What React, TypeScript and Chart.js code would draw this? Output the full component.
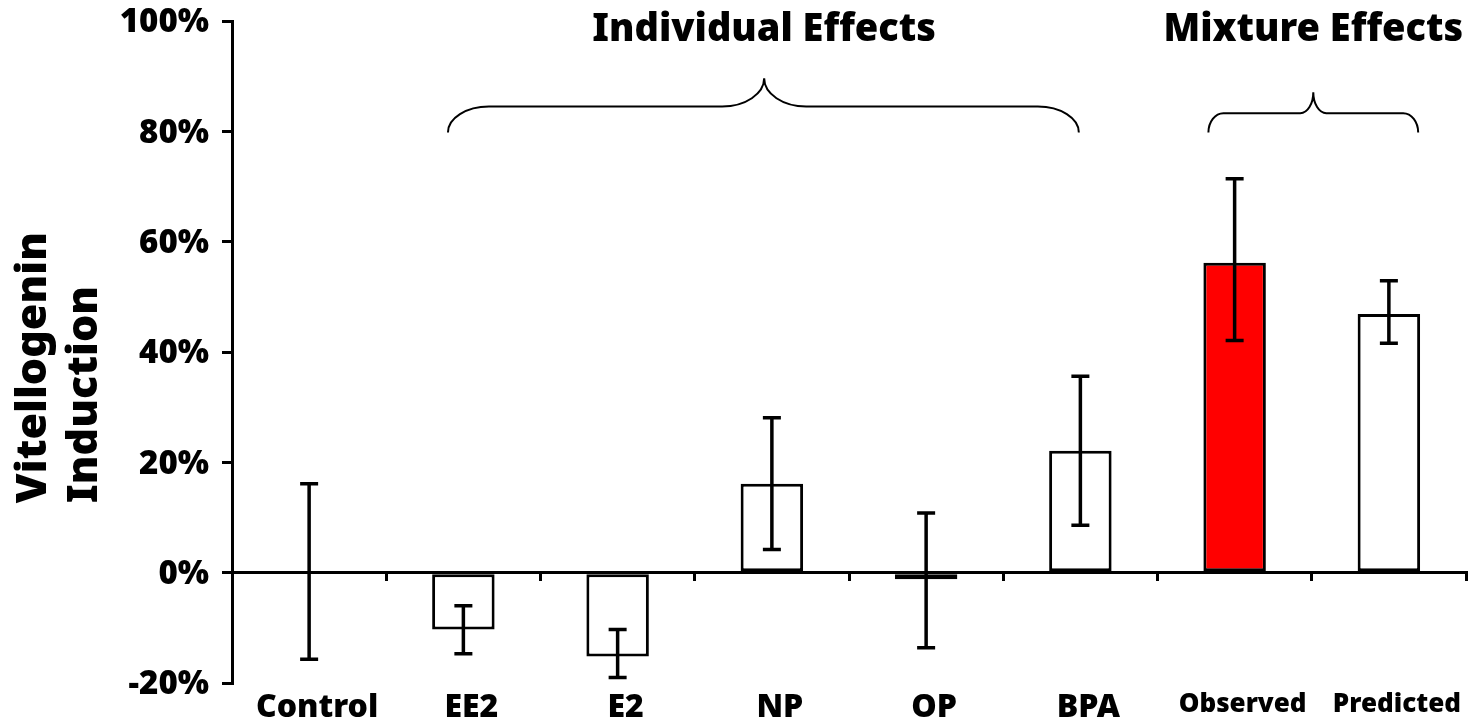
import React, { useEffect, useRef } from 'react';
import { Chart, registerables } from 'chart.js';

Chart.register(...registerables);

// ---- data ----
const categories = ['Control', 'EE2', 'E2', 'NP', 'OP', 'BPA', 'Observed', 'Predicted'];
const induction = [0, -10.3, -15.2, 16.1, -1.2, 22.1, 56.2, 46.9];
const errorHigh = [16.1, -6.0, -10.3, 28.1, 10.8, 35.6, 71.4, 52.9];
const errorLow = [-15.7, -14.7, -19.0, 4.2, -13.6, 8.6, 42.1, 41.6];
const barFills = ['#ffffff', '#ffffff', '#ffffff', '#ffffff', '#ffffff', '#ffffff', '#ff0000', '#ffffff'];
const yTickValues = [-20, 0, 20, 40, 60, 80, 100];
const yTitleLines = ['Vitellogenin', 'Induction'];
const groupTitles = ['Individual Effects', 'Mixture Effects'];

// ---- annotation geometry (category index / value units) ----
const braceSpecs = [
  { from: 0.9, tip: 2.95, to: 4.99, end: 79.8, bar: 84.5, top: 89.6, corner: 41, tipR: 42 },
  { from: 5.83, tip: 6.51, to: 7.19, end: 79.8, bar: 83.3, top: 87.1, corner: 15, tipR: 13 },
];

const FONT = '"Noto Sans"';
const WEIGHT = 900;

function drawBrace(ctx: CanvasRenderingContext2D, xL: number, xT: number, xR: number, yE: number, yB: number, yT: number, rc: number, rt: number) {
  const k = 0.5523;
  ctx.beginPath();
  ctx.moveTo(xL, yE);
  ctx.bezierCurveTo(xL, yE - k * (yE - yB), xL + rc - k * rc, yB, xL + rc, yB);
  ctx.lineTo(xT - rt, yB);
  ctx.bezierCurveTo(xT - rt + k * rt, yB, xT, yT + k * (yB - yT), xT, yT);
  ctx.bezierCurveTo(xT, yT + k * (yB - yT), xT + rt - k * rt, yB, xT + rt, yB);
  ctx.lineTo(xR - rc, yB);
  ctx.bezierCurveTo(xR - rc + k * rc, yB, xR, yE - k * (yE - yB), xR, yE);
  ctx.stroke();
}

const annotationPlugin = {
  id: 'annotations',
  afterDatasetsDraw(chart: any) {
    const ctx = chart.ctx as CanvasRenderingContext2D;
    const y = chart.scales.y;
    const meta = chart.getDatasetMeta(0);
    ctx.save();
    ctx.strokeStyle = '#000';
    ctx.lineWidth = 3.5;
    ctx.lineCap = 'butt';
    meta.data.forEach((bar: any, i: number) => {
      const x = bar.x;
      const yh = y.getPixelForValue(errorHigh[i]);
      const yl = y.getPixelForValue(errorLow[i]);
      ctx.beginPath();
      ctx.moveTo(x, yh);
      ctx.lineTo(x, yl);
      ctx.moveTo(x - 9, yh);
      ctx.lineTo(x + 9, yh);
      ctx.moveTo(x - 9, yl);
      ctx.lineTo(x + 9, yl);
      ctx.stroke();
    });
    ctx.restore();
  },
  afterDraw(chart: any) {
    const ctx = chart.ctx as CanvasRenderingContext2D;
    const x = chart.scales.x;
    const y = chart.scales.y;
    ctx.save();
    // braces
    ctx.strokeStyle = '#000';
    ctx.lineWidth = 2;
    braceSpecs.forEach((b) => {
      drawBrace(
        ctx,
        x.getPixelForValue(b.from),
        x.getPixelForValue(b.tip),
        x.getPixelForValue(b.to),
        y.getPixelForValue(b.end),
        y.getPixelForValue(b.bar),
        y.getPixelForValue(b.top),
        b.corner,
        b.tipR
      );
    });
    // group titles
    ctx.fillStyle = '#000';
    ctx.font = `${WEIGHT} 38px ${FONT}`;
    ctx.textAlign = 'center';
    ctx.textBaseline = 'alphabetic';
    groupTitles.forEach((t, i) => {
      ctx.fillText(t, x.getPixelForValue(braceSpecs[i].tip), y.getPixelForValue(96.4));
    });
    // y axis title (two rotated lines)
    ctx.font = `${WEIGHT} 43px ${FONT}`;
    ctx.textAlign = 'left';
    const startY = y.getPixelForValue(12.6);
    const baselines = [46, 97];
    yTitleLines.forEach((t, i) => {
      ctx.save();
      ctx.translate(baselines[i], startY);
      ctx.rotate(-Math.PI / 2);
      ctx.fillText(t, 0, 0);
      ctx.restore();
    });
    ctx.restore();
  },
};

export default function App() {
  const ref = useRef<HTMLCanvasElement>(null);
  useEffect(() => {
    document.body.style.margin = '0';
    document.body.style.overflow = 'hidden';
    Chart.defaults.font.family = FONT;
    const chart = new Chart(ref.current as HTMLCanvasElement, {
      type: 'bar',
      data: {
        labels: categories,
        datasets: [
          {
            data: induction,
            backgroundColor: barFills,
            borderColor: '#000',
            borderWidth: 3,
            borderSkipped: false,
            barPercentage: 0.405,
            categoryPercentage: 1,
            xAxisID: 'x',
            yAxisID: 'y',
          },
        ],
      },
      options: {
        responsive: false,
        animation: false,
        layout: { padding: { top: 21, right: 17, bottom: 0, left: 0 } },
        plugins: { legend: { display: false }, tooltip: { enabled: false } },
        scales: {
          x: {
            type: 'category',
            position: 'bottom',
            offset: true,
            grid: { display: false, drawTicks: false, offset: true },
            border: { display: false },
            ticks: {
              color: '#000',
              padding: 6,
              labelOffset: 8,
              autoSkip: false,
              maxRotation: 0,
              font: (c: any) => ({ family: FONT, weight: WEIGHT, size: c.index >= 6 ? 26 : 32 }),
            },
            afterFit: (s: any) => {
              s.height = 43;
              s.paddingLeft = 0;
              s.paddingRight = 0;
            },
          },
          x0: {
            type: 'category',
            axis: 'x',
            position: { y: 0 },
            offset: true,
            grid: {
              display: true,
              offset: true,
              drawOnChartArea: false,
              drawTicks: true,
              tickLength: 7,
              color: '#000',
              lineWidth: 3,
            },
            border: { display: true, color: '#000', width: 3 },
            ticks: { display: false },
            afterFit: (s: any) => {
              s.height = 0;
            },
          },
          y: {
            type: 'linear',
            position: 'left',
            min: -20,
            max: 100,
            afterBuildTicks: (s: any) => {
              s.ticks = yTickValues.map((v) => ({ value: v }));
            },
            grid: {
              display: true,
              drawOnChartArea: false,
              drawTicks: true,
              tickLength: 10,
              color: '#000',
              lineWidth: 3,
            },
            border: { display: true, color: '#000', width: 3 },
            ticks: {
              color: '#000',
              padding: 13,
              labelOffset: 2,
              font: { family: FONT, weight: WEIGHT, size: 33 },
              callback: (v: any) => `${v}%`,
            },
            afterFit: (s: any) => {
              s.width = 232;
              s.paddingTop = 0;
              s.paddingBottom = 0;
            },
          },
        },
      } as any,
      plugins: [annotationPlugin],
    });
    return () => chart.destroy();
  }, []);
  return (
    <div style={{ position: 'relative', width: 1483, height: 726 }}>
      <canvas ref={ref} width={1483} height={726} style={{ display: 'block' }} />
    </div>
  );
}
